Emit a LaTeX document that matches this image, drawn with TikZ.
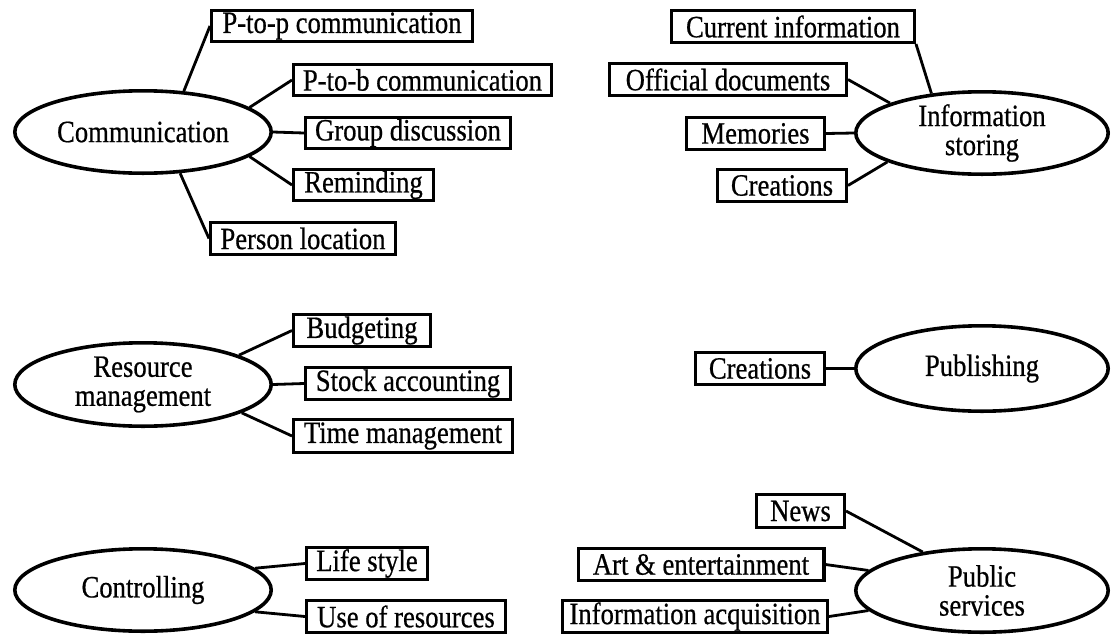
\documentclass[tikz,border=0pt]{standalone}
\usepackage{fontspec}
\setmainfont{Liberation Serif}[FakeStretch=0.86, FakeBold=0.6]
\usetikzlibrary{shapes.geometric}
\begin{document}
\begin{tikzpicture}[x=1pt,y=-1pt,
  every node/.style={font=\fontsize{31}{29}\selectfont},
  box/.style 2 args={draw, rectangle, line width=3.1pt, inner sep=0pt,
    minimum width=#1pt-3.1pt, minimum height=#2pt-3.1pt},
  oval/.style 2 args={draw, ellipse, line width=3.6pt, inner sep=0pt, align=center,
    minimum width=#1pt-3.6pt, minimum height=#2pt-3.6pt},
  link/.style={line width=2.8pt}]
\useasboundingbox (0,0) rectangle (1111,635);

% hubs
\node[oval={260}{86}] (comm) at (143,132) {Communication};
\node[oval={260}{87}] (res)  at (143,384.5) {Resource\\management};
\node[oval={260}{86}] (ctrl) at (143,590) {Controlling};
\node[oval={256}{86}] (info) at (982,133) {Information\\storing};
\node[oval={256}{89}] (pub)  at (982,368.5) {Publishing};
\node[oval={256}{87}] (serv) at (982,590.5) {Public\\services};

% communication
\node[box={264}{34}] (pp)  at (342,26)    {P-to-p communication};
\node[box={261}{34}] (pb)  at (422.5,80)  {P-to-b communication};
\node[box={208}{34}] (gd)  at (408,133)   {Group discussion};
\node[box={143}{34}] (rem) at (363.5,185) {Reminding};
\node[box={188}{35}] (pl)  at (303,238.5) {Person location};

% resource management
\node[box={140}{35}] (bud) at (362,330.5) {Budgeting};
\node[box={208}{35}] (sa)  at (408,383.5) {Stock accounting};
\node[box={222}{36}] (tm)  at (403,436)   {Time management};

% controlling
\node[box={124}{35}] (ls)  at (367,563.5) {Life style};
\node[box={202}{35}] (uor) at (406,616.5) {Use of resources};

% information storing
\node[box={246}{35}] (ci)  at (793,26.5)  {Current information};
\node[box={240}{35}] (od)  at (728,79.5)  {Official documents};
\node[box={141}{35}] (mem) at (755.5,133.5) {Memories};
\node[box={132}{35}] (cr1) at (782,185.5) {Creations};

% publishing
\node[box={132}{35}] (cr2) at (760,368.5) {Creations};

% public services
\node[box={91}{36}]  (news) at (800.5,511) {News};
\node[box={249}{35}] (art)  at (701,564.5) {Art \& entertainment};
\node[box={268}{35}] (ia)   at (695,616.5) {Information acquisition};

% connectors
\draw[link] (comm.45)   -- (pp.west);
\draw[link] (comm.13)   -- (pb.west);
\draw[link] (comm.east) -- (gd.west);
\draw[link] (comm.-13)  -- (rem.west);
\draw[link] (comm.-48)  -- (pl.west);

\draw[link] (res.17)   -- (bud.west);
\draw[link] (res.east) -- (sa.west);
\draw[link] (res.-16)  -- (tm.west);

\draw[link] (ctrl.11)  -- (ls.west);
\draw[link] (ctrl.-11) -- (uor.west);

\draw[link] (info.142) -- (ci.south east);
\draw[link] (info.162) -- (od.east);
\draw[link] (info.west) -- (mem.east);
\draw[link] (info.197) -- (cr1.east);

\draw[link] (pub.west) -- (cr2.east);

\draw[link] (serv.147) -- (news.east);
\draw[link] (serv.170) -- (art.east);
\draw[link] (serv.190) -- (ia.east);
\end{tikzpicture}
\end{document}
